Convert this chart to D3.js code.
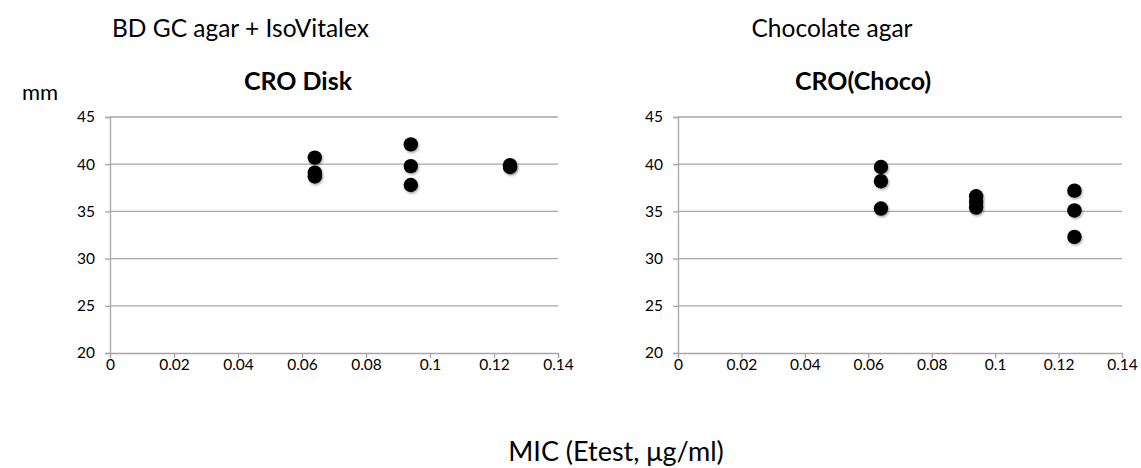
<!DOCTYPE html>
<html>
<head>
<meta charset="utf-8">
<script src="https://cdn.jsdelivr.net/npm/d3@7"></script>
<style>
  body { margin: 0; background: #fff; }
  text { font-family: Lato, "Open Sans", sans-serif; fill: #000; }
</style>
</head>
<body>
<script>
// MIC values (Etest) and zone diameters (mm)
var diskMic = [0.064, 0.064, 0.064, 0.094, 0.094, 0.094, 0.125, 0.125];
var diskMm  = [40.7, 39.1, 38.7, 42.1, 39.8, 37.8, 39.9, 39.7];

var chocoMic = [0.064, 0.064, 0.064, 0.094, 0.094, 0.094, 0.125, 0.125, 0.125];
var chocoMm  = [39.7, 38.2, 35.3, 36.6, 36.0, 35.4, 37.2, 35.1, 32.3];

var xTicks = [0, 0.02, 0.04, 0.06, 0.08, 0.1, 0.12, 0.14];
var yTicks = [20, 25, 30, 35, 40, 45];

var W = 1141, H = 468;
var svg = d3.select("body").append("svg").attr("width", W).attr("height", H);

// little drop shadow like the excel markers
var defs = svg.append("defs");
defs.append("filter").attr("id", "shadow")
  .attr("x", "-50%").attr("y", "-50%").attr("width", "200%").attr("height", "200%")
  .append("feDropShadow").attr("dx", 1).attr("dy", 1.5).attr("stdDeviation", 1)
  .attr("flood-color", "#000").attr("flood-opacity", 0.35);

var grey = "#a6a6a6";

// draws one scatter panel
var drawPanel = function(x0, x1, mic, mm, title, titleX) {
  var x = d3.scaleLinear().domain([0, 0.14]).range([x0, x1]);
  var y = d3.scaleLinear().domain([20, 45]).range([353, 117]);
  var g = svg.append("g");

  // gridlines
  g.selectAll(".grid").data(yTicks.slice(1)).enter().append("line")
    .attr("x1", x0).attr("x2", x1)
    .attr("y1", function(d){ return y(d); }).attr("y2", function(d){ return y(d); })
    .style("stroke", grey).style("stroke-width", 1.3);

  var yAxis = g.append("g").attr("transform", "translate(" + x0 + ",0)")
    .call(d3.axisLeft(y).tickValues(yTicks).tickSize(5).tickPadding(10));
  var xAxis = g.append("g").attr("transform", "translate(0," + y(20) + ")")
    .call(d3.axisBottom(x).tickValues(xTicks).tickSize(5).tickPadding(1)
      .tickFormat(function(d){ return String(+d.toFixed(2)); }));

  [yAxis, xAxis].forEach(function(a) {
    a.select(".domain").style("stroke", grey).style("stroke-width", 1.3);
    a.selectAll(".tick line").style("stroke", grey).style("stroke-width", 1.3);
    a.selectAll("text").style("font-size", "15.5px").style("font-family", "Lato, sans-serif").style("fill", "#000");
  });

  g.selectAll("circle").data(mic).enter().append("circle")
    .attr("cx", function(d){ return x(d); })
    .attr("cy", function(d, i){ return y(mm[i]); })
    .attr("r", 7.2)
    .attr("filter", "url(#shadow)")
    .style("fill", "#000");

  g.append("text").attr("x", titleX).attr("y", 90)
    .attr("text-anchor", "middle")
    .style("font-size", "25px").style("font-weight", "bold")
    .text(title);
};

drawPanel(110, 558, diskMic, diskMm, "CRO Disk", 298);
drawPanel(678, 1122, chocoMic, chocoMm, "CRO(Choco)", 863);

svg.append("text").attr("x", 112).attr("y", 37).style("font-size", "24.5px").text("BD GC agar + IsoVitalex");
svg.append("text").attr("x", 832).attr("y", 37).attr("text-anchor", "middle").style("font-size", "24.5px").text("Chocolate agar");
svg.append("text").attr("x", 22).attr("y", 100).style("font-size", "22px").text("mm");
svg.append("text").attr("x", 616).attr("y", 461).attr("text-anchor", "middle").style("font-size", "27px").text("MIC (Etest, μg/ml)");
</script>
</body>
</html>
